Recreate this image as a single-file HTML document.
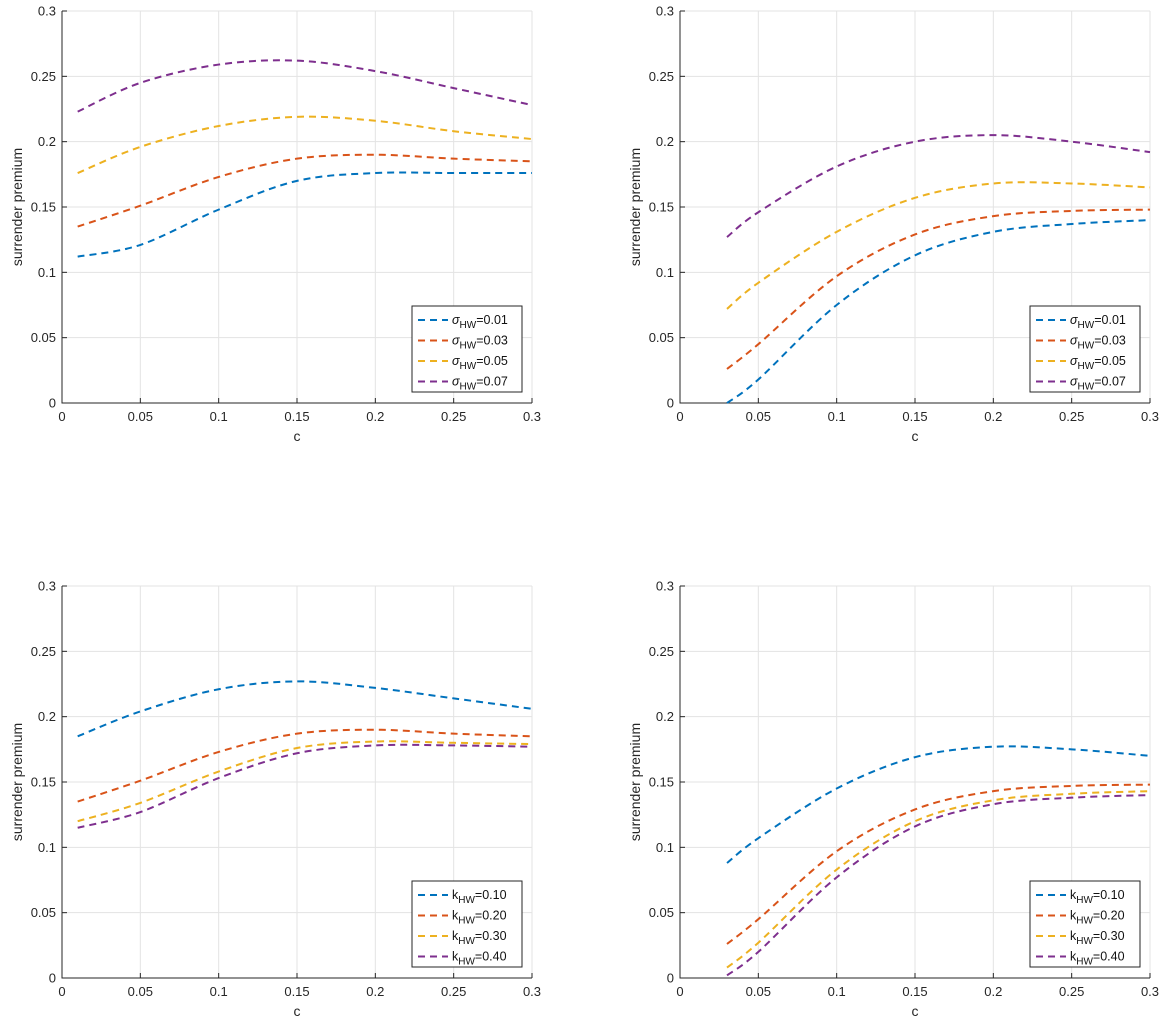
<!DOCTYPE html>
<html><head><meta charset="utf-8"><style>
body{margin:0;background:#fff;}
svg{display:block;font-family:"Liberation Sans",Arial,sans-serif;}
</style></head><body>
<svg id="fig" width="1167" height="1029"></svg>
<script>
const xsA = [0.01,0.05,0.1,0.15,0.2,0.25,0.3];
const xsB = [0.03,0.05,0.1,0.15,0.2,0.25,0.3];
const xTicks = [0,0.05,0.1,0.15,0.2,0.25,0.3];
const xTickLabels = ["0","0.05","0.1","0.15","0.2","0.25","0.3"];
const yTicks = [0,0.05,0.1,0.15,0.2,0.25,0.3];
const yTickLabels = ["0","0.05","0.1","0.15","0.2","0.25","0.3"];
const colors = ["#0072bd","#d95319","#edb120","#7e2f8e"];
const sigmaLabels = ["0.01","0.03","0.05","0.07"];
const kLabels = ["0.10","0.20","0.30","0.40"];
const tlSeries = [
 [0.112,0.121,0.148,0.170,0.176,0.176,0.176],
 [0.135,0.151,0.173,0.187,0.190,0.187,0.185],
 [0.176,0.196,0.212,0.219,0.216,0.208,0.202],
 [0.223,0.245,0.259,0.262,0.254,0.241,0.228]];
const trSeries = [
 [0.000,0.018,0.075,0.113,0.131,0.137,0.140],
 [0.026,0.045,0.097,0.129,0.143,0.147,0.148],
 [0.072,0.092,0.131,0.157,0.168,0.168,0.165],
 [0.127,0.146,0.181,0.200,0.205,0.200,0.192]];
const blSeries = [
 [0.185,0.204,0.221,0.227,0.222,0.214,0.206],
 [0.135,0.151,0.173,0.187,0.190,0.187,0.185],
 [0.120,0.134,0.158,0.176,0.181,0.180,0.179],
 [0.115,0.127,0.153,0.172,0.178,0.178,0.177]];
const brSeries = [
 [0.088,0.107,0.145,0.169,0.177,0.175,0.170],
 [0.026,0.045,0.097,0.129,0.143,0.147,0.148],
 [0.008,0.027,0.083,0.120,0.136,0.141,0.143],
 [0.002,0.020,0.077,0.116,0.133,0.138,0.140]];

const NS="http://www.w3.org/2000/svg";
const svg=document.getElementById('fig');
function mk(tag,attrs,parent){const e=document.createElementNS(NS,tag);for(const k in attrs)e.setAttribute(k,attrs[k]);(parent||svg).appendChild(e);return e;}

function panel(name,L,T,xs,series,sym,labels){
 const W=470,H=392;
 const g=mk('g',{});
 
 
 const sx=v=>L+v/0.3*W, sy=v=>T+H-v/0.3*H;
 xTicks.forEach((t,i)=>{
  const gl=mk('line',{x1:sx(t),x2:sx(t),y1:T,y2:T+H,stroke:'#e3e3e3','stroke-width':1},g);
  
  const tk=mk('line',{x1:sx(t),x2:sx(t),y1:T+H,y2:T+H-5,stroke:'#262626','stroke-width':1},g);
  
  const tl=mk('text',{x:sx(t),y:T+H+18,'text-anchor':'middle','font-size':13,fill:'#262626'},g);
  tl.textContent=xTickLabels[i];
  
 });
 yTicks.forEach((t,i)=>{
  const gl=mk('line',{x1:L,x2:L+W,y1:sy(t),y2:sy(t),stroke:'#e3e3e3','stroke-width':1},g);
  
  const tk=mk('line',{x1:L,x2:L+5,y1:sy(t),y2:sy(t),stroke:'#262626','stroke-width':1},g);
  
  const tl=mk('text',{x:L-6,y:sy(t)+4.5,'text-anchor':'end','font-size':13,fill:'#262626'},g);
  tl.textContent=yTickLabels[i];
  
 });
 const ax=mk('path',{d:`M${L},${T} L${L},${T+H} L${L+W},${T+H}`,fill:'none',stroke:'#262626','stroke-width':1},g);
 
 const xl=mk('text',{x:L+W/2,y:T+H+38,'text-anchor':'middle','font-size':14,fill:'#262626'},g);
 xl.textContent='c';
 
 const yx=L-40, yy=T+H/2;
 const yl=mk('text',{x:yx,y:yy,'text-anchor':'middle','font-size':14,fill:'#262626',transform:`rotate(-90 ${yx} ${yy})`},g);
 yl.textContent='surrender premium';
 
 series.forEach((ys,si)=>{
  const P=xs.map((x,i)=>[sx(x),sy(ys[i])]);
  let d=`M${P[0][0]},${P[0][1]}`;
  for(let i=0;i<P.length-1;i++){
   const p0=P[Math.max(0,i-1)],p1=P[i],p2=P[i+1],p3=P[Math.min(P.length-1,i+2)];
   const c1=[p1[0]+(p2[0]-p0[0])/6,p1[1]+(p2[1]-p0[1])/6];
   const c2=[p2[0]-(p3[0]-p1[0])/6,p2[1]-(p3[1]-p1[1])/6];
   d+=` C${c1[0]},${c1[1]} ${c2[0]},${c2[1]} ${p2[0]},${p2[1]}`;
  }
  const ln=mk('path',{d:d,fill:'none',stroke:colors[si],'stroke-width':2,'stroke-dasharray':'7,5'},g);
  
 });
 const lx=L+W-120, ly=T+H-97;
 const lg=mk('g',{},g);
 
 mk('rect',{x:lx,y:ly,width:110,height:86,fill:'#fff',stroke:'#262626','stroke-width':1},lg);
 labels.forEach((lab,i)=>{
  const yy2=ly+14+i*20.5;
  const e=mk('line',{x1:lx+6,x2:lx+36,y1:yy2,y2:yy2,stroke:colors[i],'stroke-width':2,'stroke-dasharray':'7,5'},lg);
  
  const t=mk('text',{x:lx+40,y:yy2+4,'font-size':12.5,fill:'#111'},lg);
  
  const a=mk('tspan',{'font-style':sym==='σ'?'italic':'normal'},t);a.textContent=sym;
  const b=mk('tspan',{dy:4,'font-size':10},t);b.textContent='HW';
  const c=mk('tspan',{dy:-4},t);c.textContent='='+lab;
 });
}
panel('panel-top-left',62,11,xsA,tlSeries,'σ',sigmaLabels);
panel('panel-top-right',680,11,xsB,trSeries,'σ',sigmaLabels);
panel('panel-bottom-left',62,586,xsA,blSeries,'k',kLabels);
panel('panel-bottom-right',680,586,xsB,brSeries,'k',kLabels);
</script>
</body></html>
